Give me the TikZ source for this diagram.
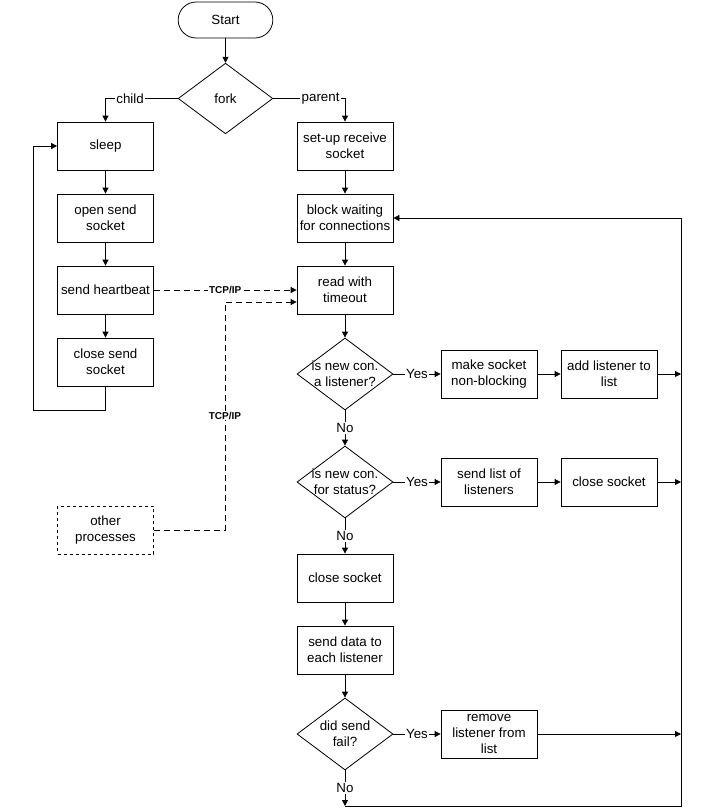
\documentclass[tikz,border=0pt]{standalone}
\usepackage{fontspec}
\setmainfont{Liberation Sans}
\usetikzlibrary{arrows.meta,shapes.geometric,calc}

\tikzset{
  box/.style={draw,rectangle,minimum width=72pt,minimum height=36pt,align=center,inner sep=1pt},
  test/.style={draw,diamond,aspect=1.333,minimum width=72pt,minimum height=54pt,inner xsep=-6pt,inner ysep=0pt,align=center},
  lab/.style={fill=white,inner sep=1pt},
  tcp/.style={dash pattern=on 4.5pt off 3pt},
  tcplab/.style={fill=white,inner sep=0.5pt,font=\bfseries\fontsize{7.5}{9}\selectfont},
}

\begin{document}
\begin{tikzpicture}[x=0.75pt,y=-0.75pt,line width=0.6pt,>={Triangle[length=4.5pt,width=4.5pt]},font=\fontsize{10}{12}\selectfont]
\fill[white] (0,0) rectangle (714,811);
\useasboundingbox (0,0) rectangle (714,811);
% start and fork
\node [draw,rounded corners=13.5pt,minimum width=71pt,minimum height=27pt] (start) at (225.5,20) {Start};
\node [test,minimum width=71pt,minimum height=53pt] (fork) at (225.5,98.5) {fork};
% child side
\node [box] (sleep) at (105.5,146) {sleep};
\node [box] (opens) at (105.5,218) {open send\\socket};
\node [box] (beat) at (105.5,290) {send heartbeat};
\node [box] (closes) at (105.5,362) {close send\\socket};
\node [box,dash pattern=on 2.25pt off 2.25pt] (other) at (105.5,530) {other\\processes};
% parent side
\node [box] (setup) at (345,146) {set-up receive\\socket};
\node [box] (block) at (345,218) {block waiting\\for connections};
\node [box] (read) at (345,290) {read with\\timeout};
\node [test] (qlist) at (345,374) {is new con.\\a listener?};
\node [box] (make) at (489,374) {make socket\\non-blocking};
\node [box] (addl) at (609,374) {add listener to\\list};
\node [test] (qstat) at (345,482) {is new con.\\for status?};
\node [box] (sendl) at (489,482) {send list of\\listeners};
\node [box] (closeb) at (609,482) {close socket};
\node [box] (closea) at (345,578) {close socket};
\node [box] (data) at (345,650) {send data to\\each listener};
\node [test] (qfail) at (345,734) {did send\\fail?};
\node [box] (remove) at (489,734) {remove\\listener from\\list};
\coordinate (rail) at (681,806);
\coordinate (back) at (345,806);
\coordinate (via) at (225,530);

\draw [->] (start) -- (fork);
\draw [->] (fork.west) -| node [lab,pos=0.33] {child} (sleep.north);
\draw [->] (fork.east) -| node [lab,pos=0.33] {parent} (setup.north);
\draw [->] (sleep) -- (opens);
\draw [->] (opens) -- (beat);
\draw [->] (beat) -- (closes);
\draw [->] (closes.south) |- (33,410) |- (sleep.west);
\draw [->] (setup) -- (block);
\draw [->] (block) -- (read);
\draw [->] (read) -- (qlist);
\draw [tcp,->] (beat.east) -- node [tcplab] {TCP/IP} (read.west);
\draw [tcp,->] (other.east) -- (via) |- node [tcplab,pos=0.25] {TCP/IP} ($(read.west)+(0,12)$);
\draw [->] (qlist.east) -- node [lab] {Yes} (make.west);
\draw [->] (make) -- (addl);
\draw [->] (addl.east) -- (addl.east -| rail);
\draw [->] (qlist.south) -- node [lab] {No} (qstat.north);
\draw [->] (qstat.east) -- node [lab] {Yes} (sendl.west);
\draw [->] (sendl) -- (closeb);
\draw [->] (closeb.east) -- (closeb.east -| rail);
\draw [->] (qstat.south) -- node [lab] {No} (closea.north);
\draw [->] (closea) -- (data);
\draw [->] (data) -- (qfail);
\draw [->] (qfail.east) -- node [lab] {Yes} (remove.west);
\draw [->] (remove.east) -- (remove.east -| rail);
\draw [->] (qfail.south) -- node [lab] {No} (back);
\draw [->] (back) -- (rail) |- (block.east);
\end{tikzpicture}
\end{document}
